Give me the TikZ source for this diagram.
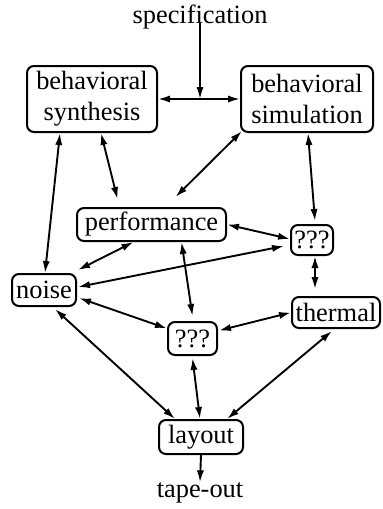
\documentclass[tikz,border=0pt]{standalone}
\usepackage{fontspec}
\setmainfont{Liberation Serif}
\usetikzlibrary{arrows.meta}
\begin{document}
\begin{tikzpicture}[x=0.5pt,y=-0.5pt,
  box/.style={draw, line width=1pt, rounded corners=3.5pt, inner sep=0pt,
    align=center, font=\fontsize{13.2}{15.5}\selectfont},
  lbl/.style={inner sep=0pt, font=\fontsize{13.2}{15.5}\selectfont},
  link/.style={line width=0.95pt, {Latex[length=6pt,width=3.6pt]}-{Latex[length=6pt,width=3.6pt]}},
  feed/.style={line width=0.95pt, -{Latex[length=6pt,width=3.6pt]}}]
\useasboundingbox (0,0) rectangle (383,509);

% design steps
\node[box, minimum width=65pt, minimum height=33pt] (bsyn) at (92,99) {behavioral\\synthesis};
\node[box, minimum width=66pt, minimum height=33pt] (bsim) at (307,99) {behavioral\\simulation};
\node[box, minimum width=74.5pt, minimum height=16.5pt] (perf) at (151.5,224.5) {performance};
\node[box, minimum width=21pt, minimum height=15pt] (qr) at (312,240) {???};
\node[box, minimum width=32pt, minimum height=16pt] (noise) at (44,290) {noise};
\node[box, minimum width=44pt, minimum height=15.5pt] (therm) at (336,312.5) {thermal};
\node[box, minimum width=24.5pt, minimum height=16.5pt] (qm) at (192.5,338.5) {???};
\node[box, minimum width=42pt, minimum height=17pt] (lay) at (201,437) {layout};

% input and output
\node[lbl] (spec) at (200,17) {specification};
\node[lbl] (tape) at (200,493) {tape-out};

% specification enters between synthesis and simulation
\draw[link] (bsyn.east) -- (bsim.west);
\draw[feed] ([yshift=-3pt]spec.center) -- (spec.center |- bsyn.east);

% interactions
\draw[link] ([xshift=-16pt]bsyn.south) -- ([xshift=0.5pt]noise.north);
\draw[link] ([xshift=4.5pt]bsyn.south) -- ([xshift=-17pt,yshift=4pt]perf.north);
\draw[link] ([xshift=1pt,yshift=1pt]bsim.south west) -- ([xshift=12pt,yshift=5pt]perf.north);
\draw[link] ([xshift=0.5pt]bsim.south) -- ([xshift=1.5pt,yshift=1.5pt]qr.north);
\draw[link] (perf.east) -- ([yshift=0.5pt]qr.west);
\draw[link] ([xshift=-9pt]perf.south) -- ([xshift=0.5pt,yshift=1.5pt]noise.north east);
\draw[link] ([xshift=-3pt,yshift=-3pt]qr.west) -- ([xshift=0.5pt,yshift=1.5pt]noise.east);
\draw[link] ([xshift=1.5pt]qr.south) -- ([xshift=-10.5pt,yshift=3.5pt]therm.north);
\draw[link] ([xshift=15pt]perf.south) -- ([yshift=2.5pt]qm.north);
\draw[link] ([xshift=1pt,yshift=-4pt]noise.east) -- ([yshift=5pt]qm.west);
\draw[link] ([xshift=0.5pt,yshift=4pt]qm.east) -- (therm.west);
\draw[link] ([xshift=5.5pt,yshift=-1pt]noise.south) -- ([xshift=-13pt]lay.north);
\draw[link] ([yshift=-1pt]qm.south) -- ([xshift=-0.5pt]lay.north);
\draw[link] ([xshift=-2pt,yshift=-1pt]therm.south) -- ([xshift=13pt]lay.north);

\draw[feed] (lay.south) -- (tape.north);
\end{tikzpicture}
\end{document}
